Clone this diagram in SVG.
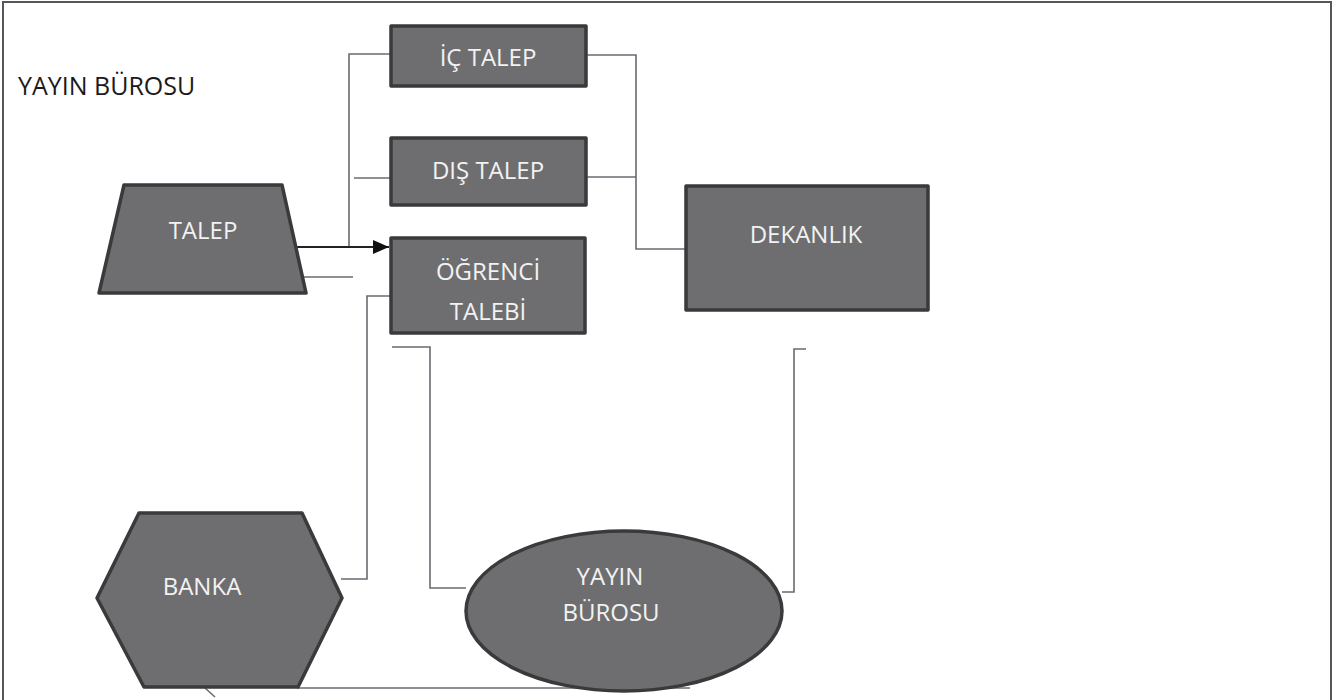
<svg xmlns="http://www.w3.org/2000/svg" width="1343" height="700" viewBox="0 0 1343 700">
<defs>
<style>
.node{fill:#6e6e70;stroke:#3a3a3c;stroke-width:3.5;stroke-linejoin:round}
.lbl{font-family:"Open Sans","Liberation Sans",sans-serif;font-size:24px;fill:#f2f2f2;text-anchor:middle}
.con{fill:none;stroke:#6a6a72;stroke-width:1.6}
</style>
<marker id="arr" markerWidth="16" markerHeight="14" refX="16" refY="7" orient="auto" markerUnits="userSpaceOnUse" viewBox="0 0 16 14">
<path d="M0,0 L16,7 L0,14 Z" fill="#111"/>
</marker>
</defs>
<rect width="1343" height="700" fill="#fff"/>
<path d="M3,702 V2 H1331 V702" fill="none" stroke="#55555c" stroke-width="2"/>
<text x="18" y="95" font-family="Open Sans, Liberation Sans, sans-serif" font-size="25" fill="#1a1a1a">YAYIN BÜROSU</text>

<g id="connectors">
<path class="con" d="M390,54 H349 V247"/>
<path d="M297,247 H389" stroke="#222" stroke-width="1.8" fill="none" marker-end="url(#arr)"/>
<path class="con" d="M354,178 H390"/>
<path class="con" d="M297,277 H353"/>
<path class="con" d="M586,55 H636 V249 H686"/>
<path class="con" d="M586,177 H636"/>
<path class="con" d="M390,296 H367 V579 H341"/>
<path class="con" d="M392,347 H430 V588 H466"/>
<path class="con" d="M806,349 H794 V592 H782"/>
<path class="con" d="M297,688 H690"/>
<path class="con" d="M205,688 L215,697"/>
</g>

<g id="talep">
<polygon class="node" points="124,185 282,185 306,293 99,293"/>
<text class="lbl" x="203" y="239">TALEP</text>
</g>
<g id="ic-talep">
<rect class="node" x="391" y="26" width="195" height="60"/>
<text class="lbl" x="488" y="66">İÇ TALEP</text>
</g>
<g id="dis-talep">
<rect class="node" x="391" y="138" width="195" height="67"/>
<text class="lbl" x="488" y="179">DIŞ TALEP</text>
</g>
<g id="ogrenci-talebi">
<rect class="node" x="391" y="238" width="194" height="95"/>
<text class="lbl" x="488" y="280">ÖĞRENCİ</text>
<text class="lbl" x="488" y="320">TALEBİ</text>
</g>
<g id="dekanlik">
<rect class="node" x="686" y="186" width="242" height="124"/>
<text class="lbl" x="806" y="243">DEKANLIK</text>
</g>
<g id="banka">
<polygon class="node" points="139,513 302,513 342,598 298,687 144,687 97,598"/>
<text class="lbl" x="202" y="595">BANKA</text>
</g>
<g id="yayin-burosu">
<ellipse class="node" cx="624" cy="611" rx="158" ry="80"/>
<text class="lbl" x="610" y="585">YAYIN</text>
<text class="lbl" x="611" y="621">BÜROSU</text>
</g>
</svg>
